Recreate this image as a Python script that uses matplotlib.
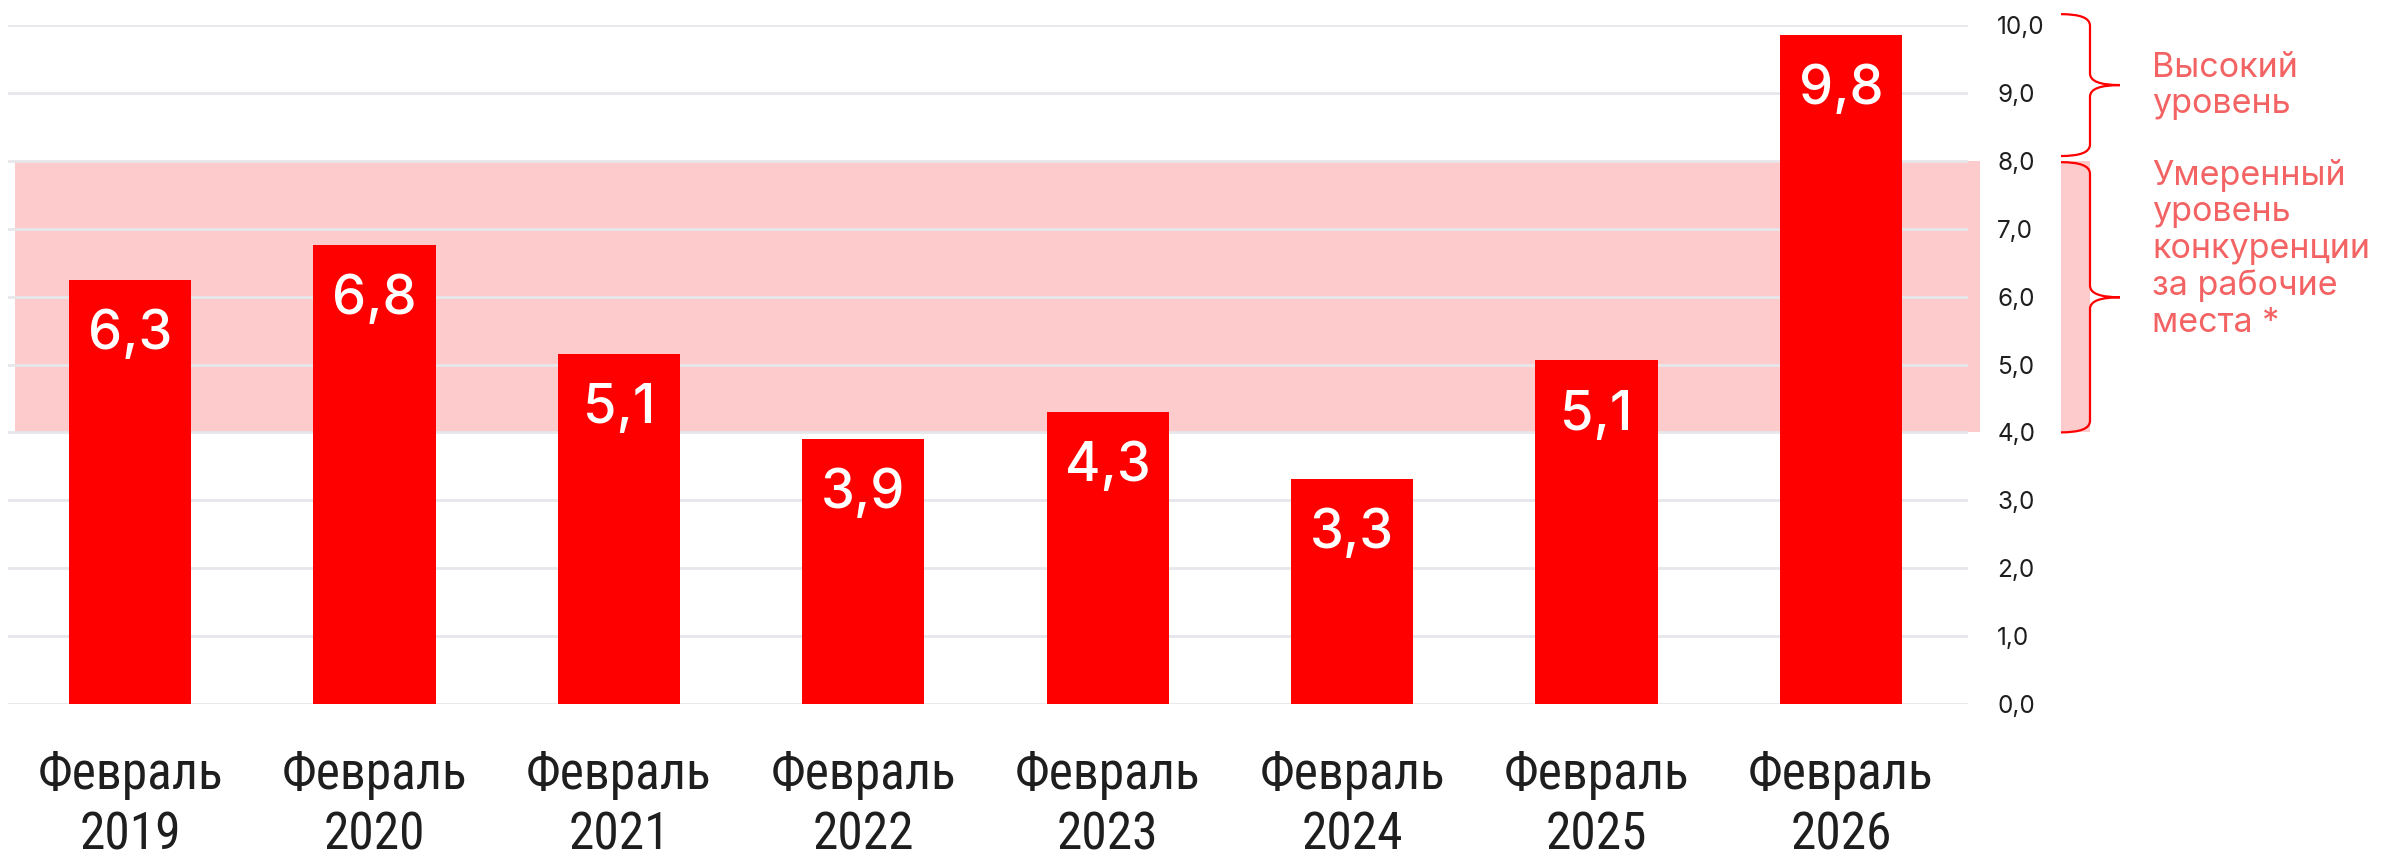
import matplotlib
matplotlib.use('Agg')
import matplotlib.pyplot as plt
from matplotlib.patches import Rectangle, PathPatch
from matplotlib.path import Path
import matplotlib.transforms as mtransforms
from matplotlib import font_manager

# ---------------- data ----------------
categories = ['Февраль\n2019', 'Февраль\n2020', 'Февраль\n2021', 'Февраль\n2022',
              'Февраль\n2023', 'Февраль\n2024', 'Февраль\n2025', 'Февраль\n2026']
values = [6.25, 6.76, 5.15, 3.91, 4.30, 3.31, 5.06, 9.85]
value_labels = ['6,3', '6,8', '5,1', '3,9', '4,3', '3,3', '5,1', '9,8']
yticks = [0, 1, 2, 3, 4, 5, 6, 7, 8, 9, 10]
ytick_labels = ['0,0', '1,0', '2,0', '3,0', '4,0', '5,0', '6,0', '7,0', '8,0', '9,0', '10,0']
moderate_zone = (4.0, 8.0)
high_zone = (8.0, 10.0)
high_label = 'Высокий\nуровень'
moderate_label = 'Умеренный\nуровень\nконкуренции\nза рабочие\nместа *'

# ---------------- style ----------------
RED = '#FF0000'
PINK = '#FDCBCB'
NOTE = '#F36363'
GRID = '#E6E6EB'
DARK = '#1E1E1E'

available = {f.name for f in font_manager.fontManager.ttflist}
MAIN = ['Inter', 'DejaVu Sans']
NARROW = ['Roboto Condensed', 'Archivo Narrow', 'Liberation Sans', 'DejaVu Sans']
NARROW = [f for f in NARROW if f in available] or ['DejaVu Sans']

W, H, DPI = 2394, 861, 100
fig = plt.figure(figsize=(W / DPI, H / DPI), dpi=DPI)
fig.patch.set_facecolor('white')

left_px, right_px, top_px, bot_px = 8, 1968, 25, 704
ax = fig.add_axes([left_px / W, 1 - bot_px / H, (right_px - left_px) / W, (bot_px - top_px) / H])
ax.set_facecolor('none')

x = list(range(len(categories)))
ax.bar(x, values, width=0.5, color=RED, zorder=3)
ax.set_xlim(-0.5, 7.52)
ax.set_ylim(0, 10)

bt = mtransforms.blended_transform_factory(fig.transFigure, ax.transData)
ax.add_patch(Rectangle((15 / W, moderate_zone[0]), (1980 - 15) / W,
                       moderate_zone[1] - moderate_zone[0],
                       transform=bt, color=PINK, zorder=0.5, clip_on=False, lw=0))

ax.set_yticks(yticks)
ax.set_yticklabels(ytick_labels)
ax.yaxis.grid(True, color=GRID, lw=2, zorder=1)
ax.set_axisbelow(False)
for gl in ax.get_ygridlines():
    gl.set_zorder(1)
ax.xaxis.grid(False)
for s in ax.spines.values():
    s.set_visible(False)
ax.yaxis.tick_right()
ax.tick_params(axis='y', length=0, pad=21, labelsize=17.5, labelcolor=DARK)
for t in ax.get_yticklabels():
    t.set_family(MAIN)
    t.set_horizontalalignment('left')

ax.set_xticks(x)
ax.set_xticklabels(categories, family=NARROW, fontsize=37, color=DARK, linespacing=1.27)
ax.tick_params(axis='x', length=0, pad=33)

for xi, v, lab in zip(x, values, value_labels):
    ax.annotate(lab, (xi, v), xytext=(0, -21), textcoords='offset points',
                ha='center', va='top', color='white', fontsize=39, fontweight='medium',
                family=MAIN, zorder=5)

def brace(y_bot, y_top, x0=2061, x1=2090, x2=2120, r=0.17):
    ym = (y_bot + y_top) / 2
    X0, X1, X2 = x0 / W, x1 / W, x2 / W
    verts = [(X0, y_top), (X1, y_top), (X1, y_top - r),
             (X1, ym + r), (X1, ym), (X2, ym),
             (X1, ym), (X1, ym - r),
             (X1, y_bot + r), (X1, y_bot), (X0, y_bot)]
    codes = [Path.MOVETO, Path.CURVE3, Path.CURVE3,
             Path.LINETO, Path.CURVE3, Path.CURVE3,
             Path.CURVE3, Path.CURVE3,
             Path.LINETO, Path.CURVE3, Path.CURVE3]
    ax.add_patch(PathPatch(Path(verts, codes), transform=bt, fill=False,
                           edgecolor=RED, lw=1.6, clip_on=False, zorder=4))

ax.add_patch(Rectangle((2061 / W, moderate_zone[0]), (2090 - 2061) / W,
                       moderate_zone[1] - moderate_zone[0],
                       transform=bt, color=PINK, zorder=0.5, clip_on=False, lw=0))
brace(high_zone[0] + 0.07, high_zone[1] + 0.16)
brace(moderate_zone[0], moderate_zone[1] - 0.02)

fig.text(2152 / W, 1 - 52 / H, high_label, ha='left', va='top', color=NOTE,
         fontsize=24.5, family=MAIN, linespacing=1.18)
fig.text(2152 / W, 1 - 159 / H, moderate_label, ha='left', va='top', color=NOTE,
         fontsize=24.5, family=MAIN, linespacing=1.18)

fig.savefig('out.png', dpi=DPI, facecolor='white')
